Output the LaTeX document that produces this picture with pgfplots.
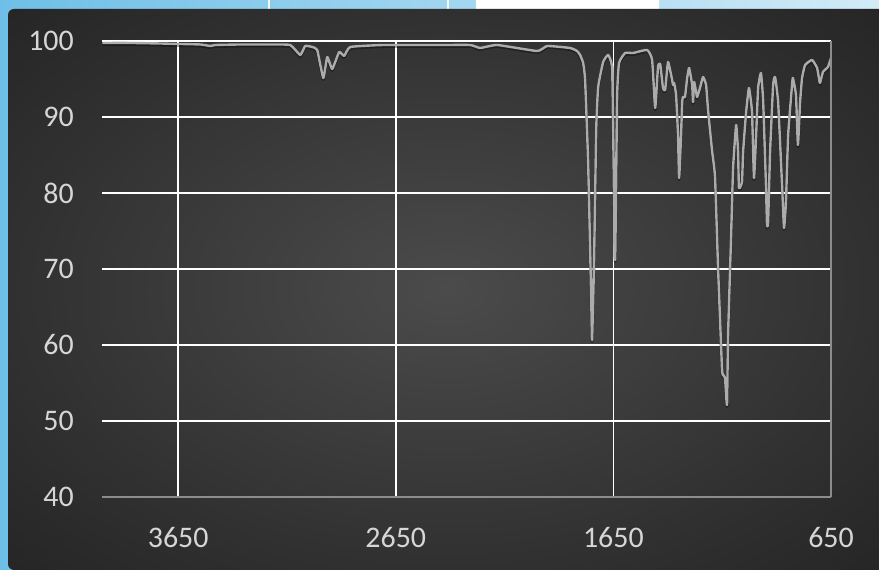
\documentclass[border=0pt]{standalone}
\usepackage{pgfplots}
\pgfplotsset{compat=1.18}
\usepackage{fontspec}
\setmainfont{Carlito}
\definecolor{bgA}{HTML}{4B4B4B}
\definecolor{bgB}{HTML}{303030}
\definecolor{bgC}{HTML}{252525}
\definecolor{skyL}{HTML}{6EBFE7}
\definecolor{skyR}{HTML}{D2EBF7}
\definecolor{spec}{HTML}{ABABAB}
\definecolor{ticklab}{HTML}{D6D6D6}
\definecolor{axgray}{HTML}{8C8C8C}
\pgfdeclareradialshading{chartbg}{\pgfpoint{0bp}{0bp}}{color(0bp)=(bgA); color(25bp)=(bgB); color(36bp)=(bgC); color(50bp)=(bgC)}
\pgfplotstableread{
w T
3998 99.74
3870 99.74
3732 99.67
3649 99.61
3548 99.54
3502 99.34
3479 99.47
3364 99.54
3227 99.54
3135 99.47
3089 98.16
3066 99.34
3034 99.21
3011 98.82
2983 95.13
2965 97.89
2942 96.32
2910 98.55
2887 98.03
2859 99.21
2708 99.47
2446 99.47
2308 99.47
2262 99.08
2184 99.47
2000 98.68
1954 99.34
1849 99.08
1817 98.68
1803 98.16
1789 97.11
1780 94.87
1766 83.95
1752 66.32
1748 60.66
1739 70.79
1729 88.29
1720 93.95
1697 97.24
1674 98.16
1656 96.58
1651 88.29
1642 71.18
1633 92.63
1624 97.11
1596 98.42
1559 98.42
1495 98.82
1472 97.50
1458 91.18
1445 96.58
1435 96.97
1422 93.82
1412 93.55
1399 97.24
1380 94.87
1376 94.21
1371 94.47
1362 92.89
1353 87.63
1348 81.97
1339 87.63
1334 91.97
1330 92.63
1321 92.63
1311 95.13
1302 96.45
1288 94.21
1284 91.97
1279 94.61
1270 93.29
1265 92.63
1252 93.82
1238 95.26
1224 94.21
1215 90.92
1197 85.66
1183 82.11
1169 70.13
1151 56.97
1146 56.05
1137 55.66
1128 52.11
1123 61.32
1109 74.47
1100 83.29
1086 88.95
1077 85.39
1073 80.66
1059 81.45
1054 85.39
1040 90.66
1027 93.82
1013 90.66
1004 81.97
994 87.63
985 93.82
972 95.79
962 92.24
949 81.05
944 75.79
939 76.18
930 85.39
916 94.21
907 95.26
893 91.97
875 81.05
866 75.39
857 78.82
847 87.63
829 94.21
825 95.13
811 92.89
802 86.32
792 91.97
783 95.13
769 96.84
737 97.50
714 96.45
701 94.47
687 95.92
664 96.58
650 97.76
}\spectrum
\begin{document}
\begin{tikzpicture}[x=1bp,y=1bp]
\useasboundingbox (0,0) rectangle (879,570);
\begin{scope}
\clip (0,0) rectangle (879,570);
\shade[left color=skyL, right color=skyR] (0,0) rectangle (879,570);
\draw[white!70!skyR, line width=1.2bp] (269,540) -- (269,575);
\draw[white!70!skyR, line width=1.2bp] (448,540) -- (448,575);
\fill[white, rounded corners=12bp] (476,540) rectangle (659,590);
\shade[shading=chartbg, rounded corners=6bp] (8,0) rectangle (885,561);
\end{scope}
\begin{axis}[
  at={(102bp,73bp)}, anchor=south west,
  scale only axis, width=729bp, height=456bp,
  x dir=reverse,
  xmin=650, xmax=4000, ymin=40, ymax=100,
  xtick={650,1650,2650,3650},
  ytick={40,50,60,70,80,90,100},
  xmajorgrids, ymajorgrids,
  major grid style={white, line width=1.7bp},
  major tick length=0pt,
  axis line style={draw=none},
  /pgf/number format/assume math mode=true,
  /pgf/number format/set thousands separator={},
  tick label style={font=\fontsize{30}{30}\selectfont, text=ticklab, inner sep=0pt},
  yticklabel style={anchor=east, xshift=-28bp},
  xticklabel style={anchor=north, yshift=-30bp},
  clip=false,
]
\addplot[black, opacity=0.35, line width=3bp, line join=round, smooth, tension=0.25, yshift=-1.5bp] table[x=w, y=T] {\spectrum};
\addplot[spec, line width=2.4bp, line join=round, smooth, tension=0.25] table[x=w, y=T] {\spectrum};
\draw[axgray, line width=1.6bp] (axis cs:4000,40) -- (axis cs:650,40);
\draw[axgray, line width=1.6bp] (axis cs:650,40) -- (axis cs:650,100);
\end{axis}
\end{tikzpicture}
\end{document}
